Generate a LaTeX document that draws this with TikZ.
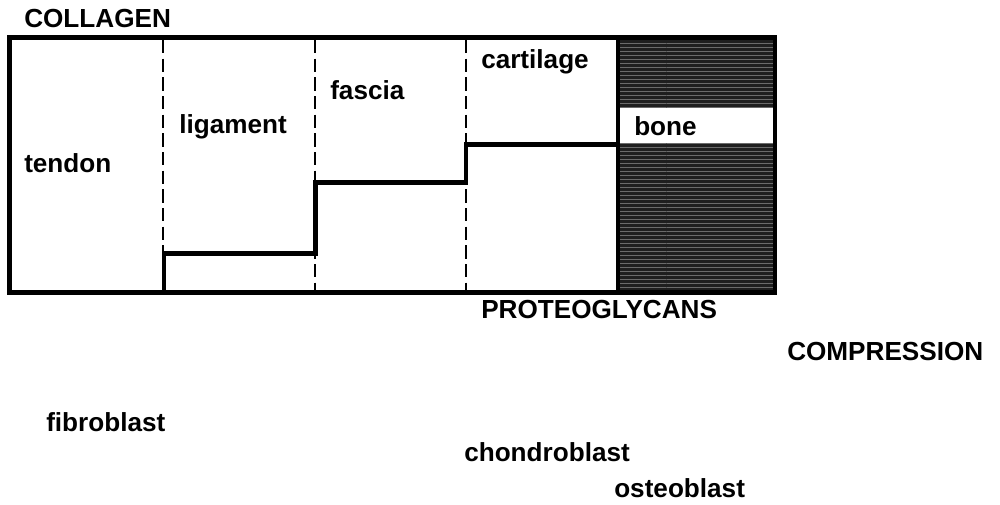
\documentclass[tikz,border=0pt]{standalone}
\usepackage{fontspec}
\setmainfont{Liberation Sans}
\usetikzlibrary{patterns}
\begin{document}
\begin{tikzpicture}[x=0.75pt,y=-0.75pt,
  lbl/.style={font=\fontsize{19.6pt}{22pt}\selectfont\bfseries, inner sep=0pt, anchor=base west},
  frame/.style={line width=3.4pt, line join=miter},
  stepline/.style={line width=3.2pt, line join=miter},
  divider/.style={line width=0.8pt, dash pattern=on 10pt off 4pt},
  bonefill/.style={fill=black!88},
  bonetex/.style={pattern=horizontal lines, pattern color=black!58}]
\useasboundingbox (0,0) rectangle (1000,504);
% bone region
\fill[bonefill] (618,37.5) rectangle (775,108);
\fill[bonefill] (618,143) rectangle (775,292.5);
\fill[bonetex] (618,37.5) rectangle (775,108);
\fill[bonetex] (618,143) rectangle (775,292.5);
% dashed dividers
\draw[divider] (163,40) -- (163,290);
\draw[divider] (315,40) -- (315,290);
\draw[divider] (466,40) -- (466,290);
% step line
\draw[stepline] (164,292.5) -- (164,253.5) -- (315.5,253.5) -- (315.5,182.5) -- (466,182.5) -- (466,144.5) -- (618,144.5);
% bone left border
\draw[stepline] (618,37.5) -- (618,292.5);
% outer frame
\draw[frame] (9.5,37.5) rectangle (775,292.5);
% labels
\node[lbl] (collagen) at (24,27) {COLLAGEN};
\node[lbl] (tendon) at (24,172) {tendon};
\node[lbl] (ligament) at (179,133) {ligament};
\node[lbl] (fascia) at (330,99) {fascia};
\node[lbl] (cartilage) at (481,68) {cartilage};
\node[lbl] (bone) at (634,135) {bone};
\node[lbl] (proteo) at (481,318) {PROTEOGLYCANS};
\node[lbl] (compression) at (787,360) {COMPRESSION};
\node[lbl] (fibro) at (46,431) {fibroblast};
\node[lbl] (chondro) at (464,461) {chondroblast};
\node[lbl] (osteo) at (614,497) {osteoblast};
\end{tikzpicture}
\end{document}
